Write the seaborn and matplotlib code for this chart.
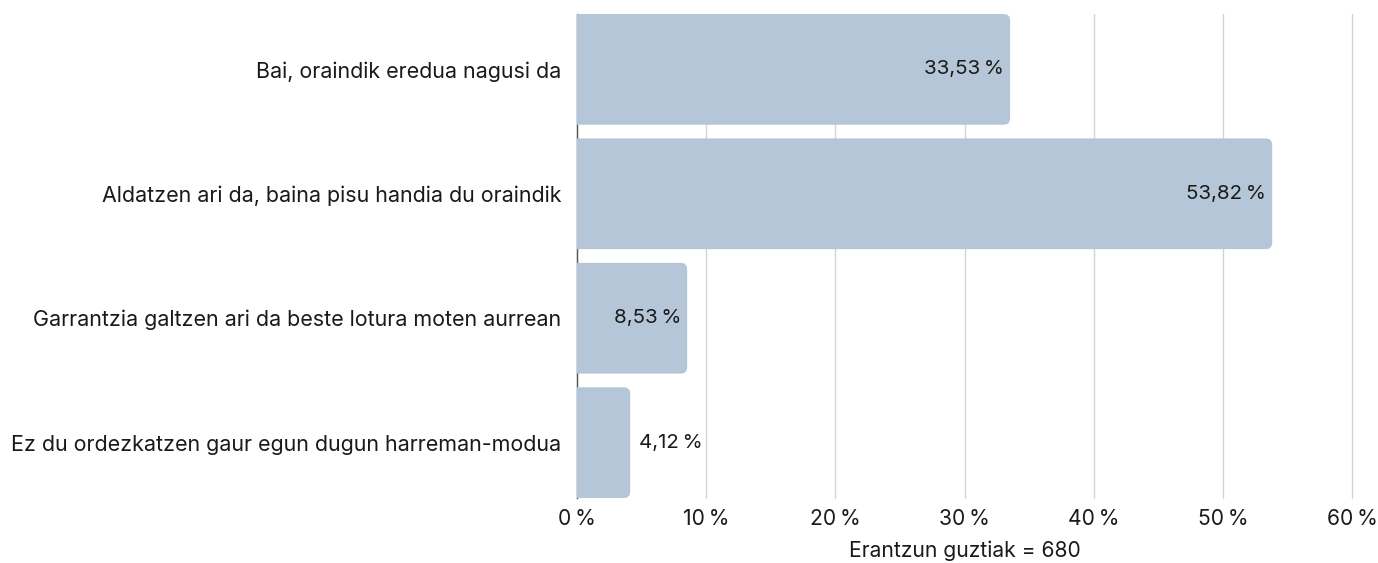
import matplotlib
matplotlib.use('Agg')
import matplotlib.pyplot as plt
import seaborn as sns
import pandas as pd
from matplotlib.patches import FancyBboxPatch
from matplotlib.ticker import FuncFormatter

# ── data ─────────────────────────────────────────────
categories = [
    'Bai, oraindik eredua nagusi da',
    'Aldatzen ari da, baina pisu handia du oraindik',
    'Garrantzia galtzen ari da beste lotura moten aurrean',
    'Ez du ordezkatzen gaur egun dugun harreman-modua',
]
values = [33.53, 53.82, 8.53, 4.12]
xlabel = 'Erantzun guztiak = 680'
BAR = '#b5c6d8'

sns.set_theme(style='white')
plt.rcParams['font.family'] = ['Inter', 'DejaVu Sans']

df = pd.DataFrame({'cat': categories, 'val': values})

fig = plt.figure(figsize=(13.78, 5.63), dpi=100)
ax = fig.add_axes([577 / 1378, 1 - 498 / 563, (1352 - 577) / 1378, (498 - 14) / 563])

sns.barplot(data=df, y='cat', x='val', orient='h', color=BAR, width=0.89, ax=ax)

# swap plain bars for ones with rounded right corners
px_x = (1352 - 577) / 60.0
ax.set_xlim(0, 60)
ax.set_ylim(3.445, -0.445)
px_y = 484 / 3.89
r = 6.5
for p in list(ax.patches):
    x0, y0, w, h = p.get_x(), p.get_y(), p.get_width(), p.get_height()
    p.remove()
    rs = r / px_x
    box = FancyBboxPatch((x0 - 2, y0), w + 2, h,
                         boxstyle=f'round,pad=0,rounding_size={rs}',
                         mutation_aspect=(px_x / px_y),
                         facecolor=BAR, edgecolor='none', zorder=2)
    ax.add_patch(box)

for i, v in enumerate(values):
    txt = f'{v:.2f}'.replace('.', ',') + '\u202f%'
    if v > 5:
        ax.text(v - 6 / px_x, i, txt, ha='right', va='center', fontsize=14.8, color='#1a1a1a', zorder=3)
    else:
        ax.text(v + 9 / px_x, i, txt, ha='left', va='center', fontsize=14.8, color='#1a1a1a', zorder=3)

ax.set_xticks(range(0, 61, 10))
ax.xaxis.set_major_formatter(FuncFormatter(lambda x, _: f'{x:.0f}\u202f%'))
ax.grid(axis='x', color='#d4d4d4', linewidth=1)
for gl in ax.get_xgridlines():
    gl.set_clip_on(False)
ax.set_axisbelow(True)
for s in ['top', 'right', 'bottom']:
    ax.spines[s].set_visible(False)
ax.spines['left'].set_color('#555555')
ax.spines['left'].set_linewidth(1)
ax.spines['left'].set_zorder(1)
ax.tick_params(axis='both', length=0, labelsize=15.2, colors='#1a1a1a')
ax.tick_params(axis='y', pad=11.5, labelsize=15.45)
ax.tick_params(axis='x', pad=8)
ax.set_ylabel('')
ax.set_xlabel(xlabel, fontsize=15.2, color='#1a1a1a', labelpad=8)

fig.savefig('out.png', dpi=100)
